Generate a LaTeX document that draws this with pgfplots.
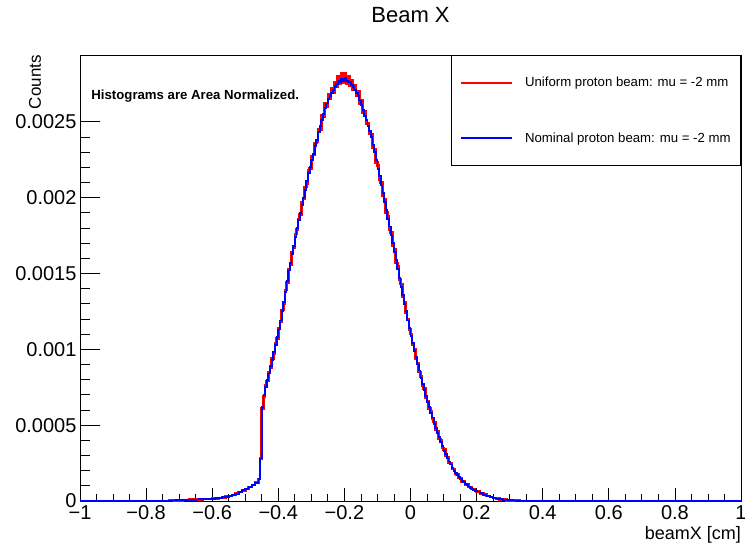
\documentclass[border=0pt]{standalone}
\usepackage{fontspec}
\setmainfont{Liberation Sans}
\usepackage{pgfplots}
\pgfplotsset{compat=1.18}
\usepackage{pgfplotstable}

\pgfplotstableread{
x y
-1.00 0
-0.73 0.000002
-0.72 0.000003
-0.71 0.000004
-0.70 0.000005
-0.69 0.000006
-0.68 0.000007
-0.67 0.000008
-0.66 0.000009
-0.65 0.000010
-0.64 0.000011
-0.63 0.000012
-0.62 0.000013
-0.61 0.000014
-0.60 0.000015
-0.59 0.000018
-0.58 0.000021
-0.57 0.000024
-0.56 0.000028
-0.55 0.000033
-0.54 0.000040
-0.53 0.000048
-0.52 0.000058
-0.51 0.000070
-0.50 0.000080
-0.49 0.000092
-0.48 0.000105
-0.47 0.000120
-0.46 0.000145
-0.455 0.00028
-0.450 0.00061
-0.445 0.00069
-0.440 0.00076
-0.435 0.00079
-0.430 0.00085
-0.425 0.00088
-0.420 0.00094
-0.415 0.00097
-0.410 0.00104
-0.405 0.00107
-0.400 0.00114
-0.395 0.00118
-0.390 0.00126
-0.385 0.00130
-0.380 0.00139
-0.375 0.00144
-0.370 0.00153
-0.365 0.00156
-0.360 0.00164
-0.355 0.00167
-0.350 0.00176
-0.345 0.00179
-0.340 0.00186
-0.335 0.00189
-0.330 0.00197
-0.325 0.00199
-0.320 0.00207
-0.315 0.00209
-0.310 0.00218
-0.305 0.00219
-0.300 0.00227
-0.295 0.00228
-0.290 0.00236
-0.285 0.00237
-0.280 0.00245
-0.275 0.00245
-0.270 0.00254
-0.265 0.00253
-0.260 0.00262
-0.255 0.00260
-0.250 0.00268
-0.245 0.00265
-0.240 0.00272
-0.235 0.00269
-0.230 0.00276
-0.225 0.00273
-0.220 0.00280
-0.215 0.00275
-0.210 0.00282
-0.205 0.00276
-0.200 0.00282
-0.195 0.00275
-0.190 0.00280
-0.185 0.00274
-0.180 0.00277
-0.175 0.00271
-0.170 0.00274
-0.165 0.00267
-0.160 0.00270
-0.155 0.00262
-0.150 0.00264
-0.145 0.00256
-0.140 0.00257
-0.135 0.00249
-0.130 0.00249
-0.125 0.00242
-0.120 0.00242
-0.115 0.00233
-0.110 0.00232
-0.105 0.00223
-0.100 0.00221
-0.095 0.00212
-0.090 0.00210
-0.085 0.00201
-0.080 0.00199
-0.075 0.00190
-0.070 0.00188
-0.065 0.00179
-0.060 0.00177
-0.055 0.00168
-0.050 0.00166
-0.045 0.00157
-0.040 0.00155
-0.035 0.00146
-0.030 0.00143
-0.025 0.00135
-0.020 0.00131
-0.015 0.00124
-0.010 0.00120
-0.005 0.00113
0.000 0.00110
0.005 0.00103
0.010 0.00100
0.015 0.00094
0.020 0.00091
0.025 0.00085
0.030 0.00082
0.035 0.00076
0.040 0.00074
0.045 0.00068
0.050 0.00066
0.055 0.00061
0.060 0.00059
0.065 0.00054
0.070 0.00052
0.075 0.00047
0.080 0.00046
0.085 0.00041
0.090 0.00040
0.095 0.00035
0.100 0.00034
0.105 0.00030
0.110 0.00029
0.115 0.00025
0.120 0.00025
0.125 0.00021
0.130 0.00021
0.135 0.000178
0.140 0.000175
0.145 0.000151
0.150 0.000149
0.155 0.000129
0.160 0.000127
0.165 0.000109
0.170 0.000107
0.175 0.000092
0.180 0.000091
0.185 0.000078
0.190 0.000076
0.195 0.000065
0.200 0.000064
0.21 0.000050
0.22 0.000042
0.23 0.000032
0.24 0.000027
0.25 0.000019
0.26 0.000016
0.27 0.000010
0.28 0.000009
0.29 0.000005
0.30 0.000004
0.31 0.000003
0.32 0.000002
0.33 0.000001
0.34 0.000001
0.35 0
1.00 0
}\uniform

\pgfplotstableread{
x y
-1.00 0
-0.73 0.000002
-0.72 0.000003
-0.71 0.000004
-0.70 0.000005
-0.69 0.000006
-0.68 0.000007
-0.67 0.000008
-0.66 0.000009
-0.65 0.000010
-0.64 0.000011
-0.63 0.000012
-0.62 0.000013
-0.61 0.000014
-0.60 0.000015
-0.59 0.000018
-0.58 0.000021
-0.57 0.000024
-0.56 0.000028
-0.55 0.000033
-0.54 0.000040
-0.53 0.000048
-0.52 0.000058
-0.51 0.000070
-0.50 0.000080
-0.49 0.000092
-0.48 0.000105
-0.47 0.000120
-0.46 0.000145
-0.455 0.00028
-0.450 0.00062
-0.445 0.00070
-0.440 0.00075
-0.435 0.00080
-0.430 0.00084
-0.425 0.00089
-0.420 0.00093
-0.415 0.00098
-0.410 0.00103
-0.405 0.00108
-0.400 0.00113
-0.395 0.00119
-0.390 0.00125
-0.385 0.00131
-0.380 0.00138
-0.375 0.00145
-0.370 0.00152
-0.365 0.00157
-0.360 0.00163
-0.355 0.00168
-0.350 0.00174
-0.345 0.00180
-0.340 0.00185
-0.335 0.00190
-0.330 0.00195
-0.325 0.00200
-0.320 0.00205
-0.315 0.00211
-0.310 0.00216
-0.305 0.00220
-0.300 0.00225
-0.295 0.00229
-0.290 0.00234
-0.285 0.00238
-0.280 0.00243
-0.275 0.00247
-0.270 0.00251
-0.265 0.00255
-0.260 0.00259
-0.255 0.00262
-0.250 0.00265
-0.245 0.00267
-0.240 0.00269
-0.235 0.00271
-0.230 0.00273
-0.225 0.00275
-0.220 0.00277
-0.215 0.00276
-0.210 0.00278
-0.205 0.00277
-0.200 0.00279
-0.195 0.00277
-0.190 0.00276
-0.185 0.00276
-0.180 0.00274
-0.175 0.00273
-0.170 0.00271
-0.165 0.00269
-0.160 0.00267
-0.155 0.00264
-0.150 0.00261
-0.145 0.00258
-0.140 0.00254
-0.135 0.00251
-0.130 0.00247
-0.125 0.00244
-0.120 0.00240
-0.115 0.00235
-0.110 0.00230
-0.105 0.00225
-0.100 0.00219
-0.095 0.00214
-0.090 0.00208
-0.085 0.00203
-0.080 0.00197
-0.075 0.00192
-0.070 0.00186
-0.065 0.00181
-0.060 0.00175
-0.055 0.00170
-0.050 0.00164
-0.045 0.00159
-0.040 0.00153
-0.035 0.00147
-0.030 0.00141
-0.025 0.00136
-0.020 0.00130
-0.015 0.00125
-0.010 0.00119
-0.005 0.00114
0.000 0.00109
0.005 0.00104
0.010 0.00099
0.015 0.00095
0.020 0.00090
0.025 0.00086
0.030 0.00081
0.035 0.00077
0.040 0.00073
0.045 0.00069
0.050 0.00065
0.055 0.00062
0.060 0.00058
0.065 0.00055
0.070 0.00051
0.075 0.00048
0.080 0.00045
0.085 0.00042
0.090 0.00039
0.095 0.00036
0.100 0.00033
0.105 0.00031
0.110 0.00028
0.115 0.00026
0.120 0.00024
0.125 0.00022
0.130 0.00020
0.135 0.000185
0.140 0.00017
0.145 0.000157
0.150 0.000145
0.155 0.000134
0.160 0.000123
0.165 0.000113
0.170 0.000104
0.175 0.000096
0.180 0.000088
0.185 0.000081
0.190 0.000074
0.195 0.000068
0.200 0.000062
0.21 0.000051
0.22 0.000041
0.23 0.000033
0.24 0.000026
0.25 0.000020
0.26 0.000015
0.27 0.000011
0.28 0.000008
0.29 0.000006
0.30 0.000004
0.31 0.000003
0.32 0.000002
0.33 0.000001
0.34 0.000001
0.35 0
1.00 0
}\nominal

\begin{document}
\begin{tikzpicture}
\path[use as bounding box] (-80pt,-45pt) rectangle (665pt,501pt);
\begin{axis}[
  anchor=south west, at={(0pt,0pt)},
  scale only axis, width=661pt, height=446pt,
  xmin=-1, xmax=1, ymin=0, ymax=0.00294,
  axis line style={black, line width=0.8pt},
  xtick={-1,-0.8,-0.6,-0.4,-0.2,0,0.2,0.4,0.6,0.8,1},
  xticklabels={−1,−0.8,−0.6,−0.4,−0.2,0,0.2,0.4,0.6,0.8,1},
  ytick={0,0.0005,0.001,0.0015,0.002,0.0025},
  yticklabels={0,0.0005,0.001,0.0015,0.002,0.0025},
  scaled y ticks=false,
  minor x tick num=3, minor y tick num=4,
  xtick pos=bottom, ytick pos=left, tick align=inside,
  xtick style={black, line width=0.8pt, /pgfplots/major tick length=13pt, /pgfplots/minor tick length=6.5pt},
  ytick style={black, line width=0.8pt, /pgfplots/major tick length=20pt, /pgfplots/minor tick length=10pt},
  tick label style={font=\fontsize{20}{24}\selectfont},
  xticklabel style={yshift=-1pt},
  xlabel={beamX [cm]}, ylabel={Counts},
  xlabel style={at={(axis description cs:1,0)}, anchor=north east, yshift=-25pt, inner sep=0pt, font=\fontsize{18}{22}\selectfont},
  ylabel style={at={(axis description cs:-0.068,1)}, anchor=east, inner sep=0pt, font=\fontsize{17}{20}\selectfont},
  legend style={at={(1,1)}, anchor=north east, draw=black, line width=0.8pt, fill=white,
    font=\fontsize{13.2}{16}\selectfont, row sep=40pt, inner xsep=8pt, inner ysep=20pt,
    /tikz/every odd column/.append style={column sep=10pt}},
  legend cell align=left,
  legend image code/.code={\draw[#1] (0pt,0pt) -- (51pt,0pt);},
  clip=false,
]
\addplot[const plot, red, line width=2.6pt] table[x=x,y=y] {\uniform};
\addlegendentry{Uniform proton beam: mu = -2 mm}
\addplot[const plot, blue, line width=1.8pt] table[x=x,y=y] {\nominal};
\addlegendentry{Nominal proton beam: mu = -2 mm}
\node[anchor=west, font=\bfseries\fontsize{13.2}{16}\selectfont, inner sep=0pt] at (rel axis cs:0.017,0.908) {Histograms are Area Normalized.};
\node[font=\fontsize{22}{26}\selectfont] at (rel axis cs:0.5,1) [yshift=40pt] {Beam X};
\end{axis}
\end{tikzpicture}
\end{document}
